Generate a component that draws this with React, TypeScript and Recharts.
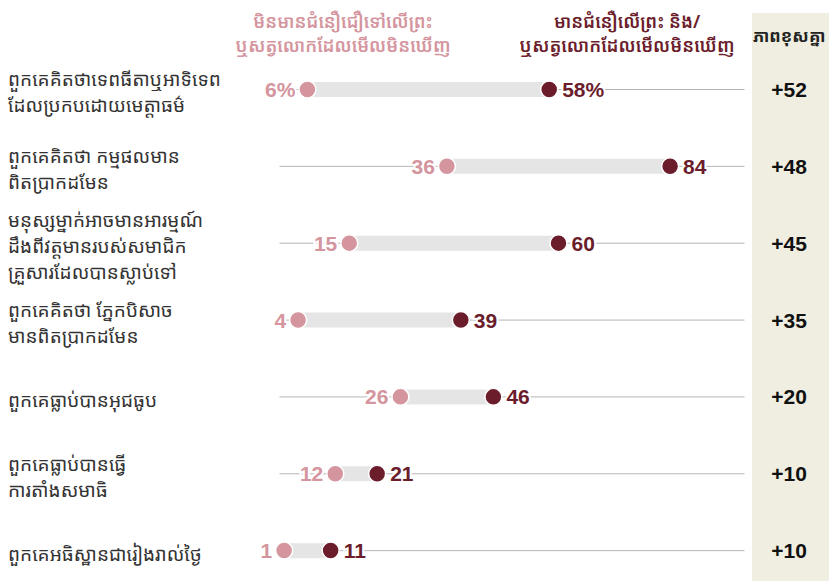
import { ComposedChart, Bar, Line, XAxis, YAxis } from 'recharts'

// statements, one entry per row (lines split as in the original)
const statements = [
  ['ពួកគេគិតថាទេពធីតាឬអាទិទេព', 'ដែលប្រកបដោយមេត្តាធម៌'],
  ['ពួកគេគិតថា កម្មផលមាន', 'ពិតប្រាកដមែន'],
  ['មនុស្សម្នាក់អាចមានអារម្មណ៍', 'ដឹងពីវត្តមានរបស់សមាជិក', 'គ្រួសារដែលបានស្លាប់ទៅ'],
  ['ពួកគេគិតថា ភ្នែកបិសាច', 'មានពិតប្រាកដមែន'],
  ['ពួកគេធ្លាប់បានអុជធូប'],
  ['ពួកគេធ្លាប់បានធ្វើ', 'ការតាំងសមាធិ'],
  ['ពួកគេអធិស្ឋានជារៀងរាល់ថ្ងៃ'],
]
const nonBelievers = [6, 36, 15, 4, 26, 12, 1]
const believers = [58, 84, 60, 39, 46, 21, 11]
const differences = ['+52', '+48', '+45', '+35', '+20', '+10', '+10']
const valueSuffix = ['%', '', '', '', '', '', '']

const nonBelieverHeader = ['មិនមានជំនឿជឿទៅលើព្រះ', 'ឬសត្វលោកដែលមើលមិនឃើញ']
const believerHeader = ['មានជំនឿលើព្រះ និង/', 'ឬសត្វលោកដែលមើលមិនឃើញ']
const diffHeader = 'ភាពខុសគ្នា'

const PINK = '#d4959e'
const MAROON = '#6b1d2c'
const KHMER = "'Noto Sans Khmer', 'Khmer OS', 'Noto Sans', 'DejaVu Sans', sans-serif"
const NUM_FONT = "'Liberation Sans', Arial, sans-serif"

const data = statements.map((lines, i) => ({
  label: lines.join('\n'),
  low: nonBelievers[i],
  high: believers[i],
  range: [nonBelievers[i], believers[i]],
  diff: differences[i],
  suffix: valueSuffix[i],
}))

// eslint-disable-next-line @typescript-eslint/no-explicit-any
const StatementTick = (props: any) => {
  const { y, payload } = props
  const lines: string[] = String(payload.value).split('\n')
  const lh = 26
  const top = y + 3 - ((lines.length - 1) * lh) / 2
  return (
    <text x={8} y={top} fill="#333" fontSize={19} fontFamily={KHMER} dominantBaseline="central">
      {lines.map((l, i) => (
        <tspan key={i} x={8} y={top + i * lh}>
          {l}
        </tspan>
      ))}
    </text>
  )
}

// eslint-disable-next-line @typescript-eslint/no-explicit-any
const DiffTick = (props: any) => {
  const { y, index } = props
  return (
    <text
      x={789}
      y={y}
      textAnchor="middle"
      dominantBaseline="central"
      fill="#111"
      fontSize={21}
      fontWeight="bold"
      fontFamily={NUM_FONT}
    >
      {data[index]?.diff}
    </text>
  )
}

// thin full-range rule drawn as the bar's background, so it sits under the gray range bar
// eslint-disable-next-line @typescript-eslint/no-explicit-any
const RowRule = (props: any) => {
  const { x, y, width, height, index } = props
  const cy = y + height / 2
  return <line key={`rule-${index}`} x1={x} x2={x + width} y1={cy} y2={cy} stroke="#b5b5b5" strokeWidth={1} />
}

// eslint-disable-next-line @typescript-eslint/no-explicit-any
const LowDot = (props: any) => {
  const { cx, cy, index, payload } = props
  return (
    <g key={`low-${index}`}>
      <text
        x={cx - 12}
        y={cy}
        textAnchor="end"
        dominantBaseline="central"
        fill={PINK}
        fontSize={21}
        fontWeight="bold"
        fontFamily={NUM_FONT}
        stroke="#fff"
        strokeWidth={4}
        paintOrder="stroke"
      >
        {`${payload.low}${payload.suffix}`}
      </text>
      <circle cx={cx} cy={cy} r={8.5} fill={PINK} stroke="#fff" strokeWidth={1.5} />
    </g>
  )
}

// eslint-disable-next-line @typescript-eslint/no-explicit-any
const HighDot = (props: any) => {
  const { cx, cy, index, payload } = props
  return (
    <g key={`high-${index}`}>
      <text
        x={cx + 13}
        y={cy}
        textAnchor="start"
        dominantBaseline="central"
        fill={MAROON}
        fontSize={21}
        fontWeight="bold"
        fontFamily={NUM_FONT}
        stroke="#fff"
        strokeWidth={4}
        paintOrder="stroke"
      >
        {`${payload.high}${payload.suffix}`}
      </text>
      <circle cx={cx} cy={cy} r={8.5} fill={MAROON} stroke="#fff" strokeWidth={1.5} />
    </g>
  )
}

const headerStyle = (color: string, center: number): React.CSSProperties => ({
  position: 'absolute',
  top: 9,
  left: center - 150,
  width: 300,
  textAlign: 'center',
  color,
  fontFamily: KHMER,
  fontSize: 18,
  fontWeight: 600,
  lineHeight: '24px',
})

export default function App() {
  return (
    <div style={{ position: 'absolute', left: 0, top: 0, width: 829, height: 581, overflow: 'hidden', background: '#fff' }}>
      <div style={{ position: 'absolute', left: 752, top: 13, width: 77, height: 568, background: '#f0eee1' }} />
      <div
        style={{
          position: 'absolute',
          left: 753,
          top: 24,
          whiteSpace: 'nowrap',
          fontFamily: KHMER,
          fontSize: 17,
          fontWeight: 700,
          color: '#222',
          lineHeight: '24px',
        }}
      >
        {diffHeader}
      </div>
      <div style={headerStyle(PINK, 343)}>
        {nonBelieverHeader.map((l) => (
          <div key={l}>{l}</div>
        ))}
      </div>
      <div style={headerStyle(MAROON, 627)}>
        {believerHeader.map((l) => (
          <div key={l}>{l}</div>
        ))}
      </div>
      <div style={{ position: 'absolute', left: 0, top: 0 }}>
        <ComposedChart
          layout="vertical"
          width={829}
          height={589}
          data={data}
          margin={{ top: 51, right: 0, bottom: 0, left: 0 }}
        >
          <XAxis type="number" domain={[0, 100]} hide />
          <YAxis
            type="category"
            dataKey="label"
            width={279.5}
            axisLine={false}
            tickLine={false}
            tick={<StatementTick />}
            interval={0}
          />
          <YAxis
            yAxisId="r"
            orientation="right"
            type="category"
            dataKey="label"
            width={84.5}
            axisLine={false}
            tickLine={false}
            tick={<DiffTick />}
            interval={0}
          />
          <Bar dataKey="range" fill="#e5e5e5" barSize={15} background={RowRule} isAnimationActive={false} />
          <Line dataKey="low" stroke="none" dot={LowDot} activeDot={false} isAnimationActive={false} />
          <Line dataKey="high" stroke="none" dot={HighDot} activeDot={false} isAnimationActive={false} />
        </ComposedChart>
      </div>
    </div>
  )
}
